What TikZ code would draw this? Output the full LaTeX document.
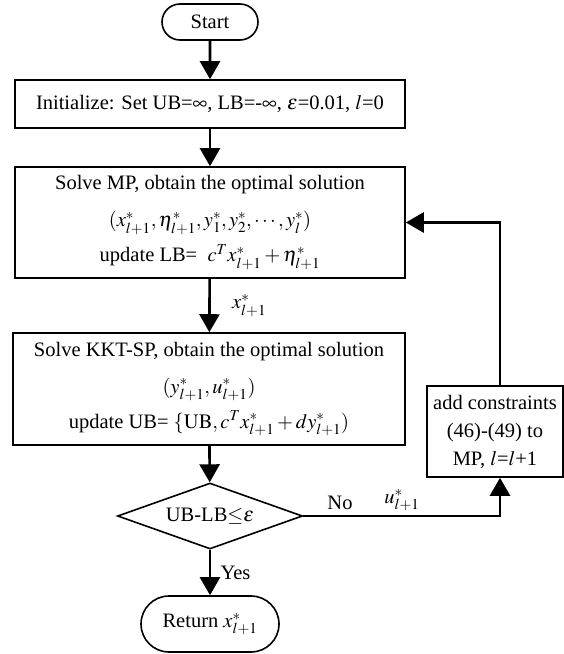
\documentclass[tikz,border=0pt]{standalone}
\usepackage{mathptmx}
\usepackage[no-math]{fontspec}
\setmainfont{Liberation Serif}
\usetikzlibrary{arrows.meta,shapes.geometric,shapes.misc}

\tikzset{
  box/.style={draw, line width=1.6pt, rectangle, align=center, inner sep=4pt},
  term/.style={draw, line width=1.6pt, rounded rectangle, inner sep=4pt},
  decide/.style={draw, line width=1.6pt, diamond, aspect=2.8, inner sep=0pt},
  arr/.style={line width=2.6pt, -{Triangle[length=18pt,width=20pt]}},
  link/.style={line width=2.6pt}
}

\begin{document}
\begin{tikzpicture}[x=1pt, y=-1pt, font=\fontsize{20.5}{34}\selectfont]
  \useasboundingbox (0,0) rectangle (564,654);
  % terminals
  \node[term, minimum width=104pt, minimum height=36pt] (start) at (210,22) {Start};
  \node[term, minimum width=146pt, minimum height=56pt] (ret) at (210,624) {Return $x^*_{l+1}$};
  % process boxes
  \node[box, minimum width=390pt, minimum height=48pt] (init) at (210,104)
    {Initialize: Set UB=$\infty$, LB=-$\infty$, $\varepsilon$=0.01, $l$=0};
  \node[box, minimum width=390pt, minimum height=111pt] (mp) at (210,222.5)
    {Solve MP, obtain the optimal solution\\[3pt]
     $(x^*_{l+1},\eta^*_{l+1},y^*_1,y^*_2,\cdots,y^*_l)$\\[1pt]
     update LB= \ $c^T x^*_{l+1}+\eta^*_{l+1}$};
  \node[box, minimum width=392pt, minimum height=112pt] (kkt) at (209,389)
    {Solve KKT-SP, obtain the optimal solution\\[3pt]
     $(y^*_{l+1},u^*_{l+1})$\\[1pt]
     update UB= $\{\mathrm{UB},c^T x^*_{l+1}+dy^*_{l+1})$};
  \node[box, minimum width=136pt, minimum height=91pt, inner sep=2pt,
        font=\fontsize{20.5}{28}\selectfont] (add) at (495,431.5)
    {add constraints\\(46)-(49) to\\MP, $l$=$l$+1};
  % decision
  \node[decide, minimum width=185pt, minimum height=66pt] (dec) at (210,516) {UB-LB${\leq}\varepsilon$};
  \coordinate (nobend) at (500,516);

  % main flow
  \draw[arr] (start) -- (init);
  \draw[arr] (init) -- (mp);
  \draw[arr] (mp) -- node[right=18pt] {$x^*_{l+1}$} (kkt);
  \draw[arr] (kkt) -- (dec);
  \draw[arr] (dec) -- node[right=6pt] {Yes} (ret);
  % loop back
  \draw[arr] (dec.east) -- (nobend) -- (nobend |- add.south);
  \node (no) at (340,503) {No};
  \node (ulab) at (402,500) {$u^*_{l+1}$};
  \draw[arr] (nobend |- add.north) |- (mp.east);
\end{tikzpicture}
\end{document}
